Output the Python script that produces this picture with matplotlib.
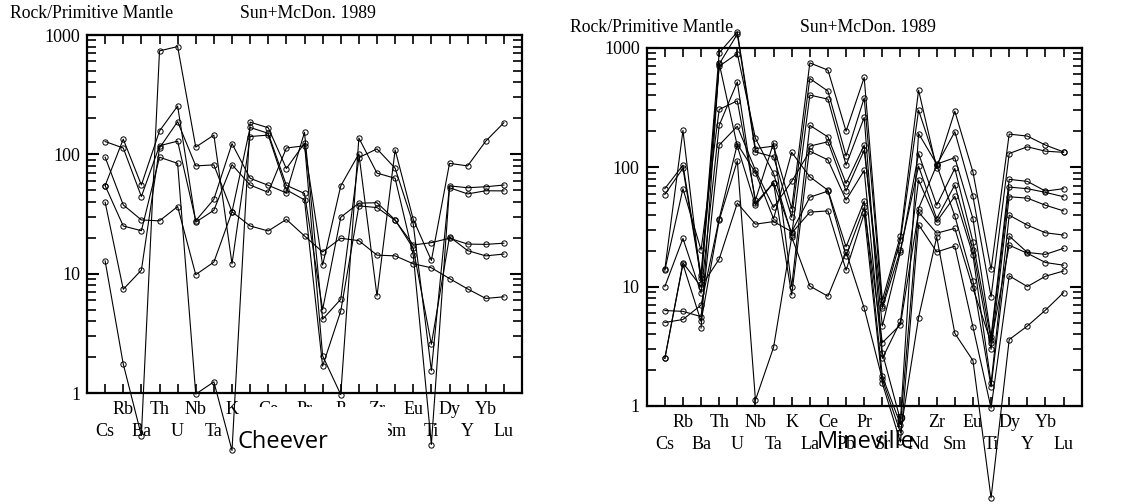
import matplotlib
matplotlib.use('Agg')
import matplotlib.pyplot as plt
import numpy as np
from matplotlib.patches import Rectangle
from matplotlib.ticker import NullFormatter

plt.rcParams["font.family"] = "Liberation Serif"

# Elementos (normalizado a manto primitivo, Sun+McDon. 1989)
elementos = ['Cs', 'Rb', 'Ba', 'Th', 'U', 'Nb', 'Ta', 'K', 'La', 'Ce', 'Pb', 'Pr',
             'Sr', 'P', 'Nd', 'Zr', 'Sm', 'Eu', 'Ti', 'Dy', 'Y', 'Yb', 'Lu']

# Cheever
cheever_1 = [54.7, 134, 55.3, 157, 254, 27, 34, 82, 55.3, 48, 113, 118, 11.8, 54.4, 101, 6.5, 109, 28.5, 12.9, 84, 80, 129, 184]
cheever_2 = [128, 113, 44.3, 118, 129, 27.8, 42, 123, 63, 55, 47.5, 153, 4.15, 6.1, 94, 111, 76.5, 26, 1.54, 54.4, 52.5, 53.5, 55.3]
cheever_3 = [54.7, 25.1, 22.9, 94.6, 84, 0.98, 1.24, 0.33, 186, 167, 76, 124, 2.05, 0.97, 137, 69.6, 63, 14.3, 0.37, 52.5, 46.6, 49.5, 49.4]
cheever_4 = [39.7, 7.4, 10.7, 113, 188, 80, 81.6, 33, 168, 150, 55, 47, 5.0, 29.7, 39, 39.3, 28.2, 16.3, 2.56, 20.4, 15.6, 14.1, 14.6]
cheever_5 = [12.8, 1.75, 0.44, 736, 800, 115, 145, 12.1, 141, 145, 50.4, 41.5, 1.68, 4.86, 37, 35.8, 28, 17.4, 18.2, 19.8, 17.7, 17.6, 18]
cheever_6 = [94.6, 37.7, 28.2, 27.7, 36.5, 9.8, 12.5, 33, 25.1, 22.8, 28.5, 20.7, 15.2, 19.8, 18.9, 14.3, 14.1, 12.1, 11.2, 9.1, 7.45, 6.2, 6.4]

# Mineville
nan = np.nan
mineville_1 = [66, 104, 12.5, 906, 1356, 143, 150, 45, 746, 649, 200, 563, 7.7, 26.5, 441, 97.5, 294, 91, 13.9, 189, 182, 153, 134]
mineville_2 = [59, 98, 11.7, 730, 1300, 134, 122, 38, 552, 433, 124, 380, 6.9, 24.5, 300, 104, 198, 57, 8.2, 130, 148, 136, 133]
mineville_3 = [13.9, 203, 10.6, 700, 893, 174, 88.5, 27, 401, 371, 104, 261, 2.79, 0.76, 191, 106, 120, 37, 3.8, 79, 76, 63, 66]
mineville_4 = [13.7, 66, 20.2, 304, 359, 53, 160, 10, 224, 179, 73, 153, 4.67, 19.5, 130, 48, 97.5, 23.7, 3.57, 68, 66, 61.5, 56.5]
mineville_5 = [10, 25.3, 8.8, 224, 517, 50, 74, 8.5, 150, 163, 63, 139, 6.6, 20.2, 102, 37, 71, 20.2, 2.98, 56.5, 55, 48, 43]
mineville_6 = [6.3, 6.2, 5.6, 153, 220, 94, 46, 76, 136, 115, 53, 94, 2.5, 5.1, 78, 35, 57, 18.4, 1.55, 39.6, 32.7, 28.2, 27]
mineville_7 = [5.0, 5.3, 7.0, 37, 156, 90, 37, 133, 83, 64, 21.5, 52, 1.78, 0.7, 45, 104, 39, 11.2, 1.45, 26.5, 19.3, 18.6, 20.9]
mineville_8 = [2.5, 15.8, 10, 17, 50, 33.3, 35, 28.8, 56, 63, 18, 46, 3.39, 4.8, 42, 28, 30.7, 9.7, 3.4, 22.2, 19, 15.9, 15.1]
mineville_9 = [2.5, 15.4, 5.1, 36, 113, 1.12, 3.1, 26, 10.1, 8.3, 19.5, 6.6, 1.67, 0.6, 5.5, 26, 4.06, 2.4, 0.17, 3.6, 4.67, 6.35, 8.9]
mineville_10 = [nan, nan, 4.5, 738, 150, 48, 74, 28, 42, 43, 13.7, 41, 1.55, 0.5, 33, 19.5, 21.8, 4.6, 0.96, 12.3, 10, 12.2, 13.5]

cheever = [cheever_1, cheever_2, cheever_3, cheever_4, cheever_5, cheever_6]
mineville = [mineville_1, mineville_2, mineville_3, mineville_4, mineville_5,
             mineville_6, mineville_7, mineville_8, mineville_9, mineville_10]

W, H = 1122, 504
fig = plt.figure(figsize=(W / 100, H / 100), dpi=100)


def spider(ax, series):
    x = np.arange(len(elementos))
    for s in series:
        ax.plot(x, s, color='black', linewidth=0.8, marker='o', markersize=3.8,
                markerfacecolor='none', markeredgecolor='black', markeredgewidth=0.7,
                clip_on=False)
    ax.set_yscale('log')
    ax.set_ylim(1, 1000)
    ax.set_xlim(-1, len(elementos))
    ax.set_xticks(x)
    # etiquetas en dos filas alternadas
    etiquetas = [e + '\n' if i % 2 else '\n' + e for i, e in enumerate(elementos)]
    ax.set_xticklabels(etiquetas, fontsize=13, linespacing=1.38)
    ax.set_yticks([1, 10, 100, 1000])
    ax.set_yticklabels(['1', '10', '100', '1000'], fontsize=13)
    ax.yaxis.set_minor_formatter(NullFormatter())
    ax.tick_params(axis='x', which='major', direction='in', top=True, bottom=True,
                   length=6.5, width=1.2, pad=6)
    ax.tick_params(axis='y', which='major', direction='in', left=True, right=True,
                   length=8.5, width=1.5, pad=5)
    ax.tick_params(axis='y', which='minor', direction='in', left=True, right=True,
                   length=6.5, width=1.2)
    for sp in ax.spines.values():
        sp.set_linewidth(1.6)


ax1 = fig.add_axes([87 / W, 1 - 393 / H, 435 / W, 358 / H])
spider(ax1, cheever)
ax2 = fig.add_axes([646.7 / W, 1 - 406 / H, 435 / W, 358.3 / H])
spider(ax2, mineville)

# cabeceras
fig.text(10 / W, 1 - 14 / H, 'Rock/Primitive Mantle', fontsize=12.75, ha='left', va='center')
fig.text(307.5 / W, 1 - 14 / H, 'Sun+McDon. 1989', fontsize=12.75, ha='center', va='center')
fig.text(570 / W, 1 - 27 / H, 'Rock/Primitive Mantle', fontsize=12.75, ha='left', va='center')
fig.text(868 / W, 1 - 27 / H, 'Sun+McDon. 1989', fontsize=12.75, ha='center', va='center')

# nombre de cada localidad
fig.add_artist(Rectangle((240 / W, 1 - 480 / H), 148 / W, 73 / H, transform=fig.transFigure,
                         facecolor='white', edgecolor='none', zorder=3))
fig.text(282.5 / W, 1 - 442 / H, 'Cheever', family='Open Sans', fontsize=17,
         ha='center', va='center', zorder=4)
fig.text(866 / W, 1 - 442 / H, 'Mineville', family='Open Sans', fontsize=17,
         ha='center', va='center', zorder=4)

plt.savefig('out.png', dpi=100)
